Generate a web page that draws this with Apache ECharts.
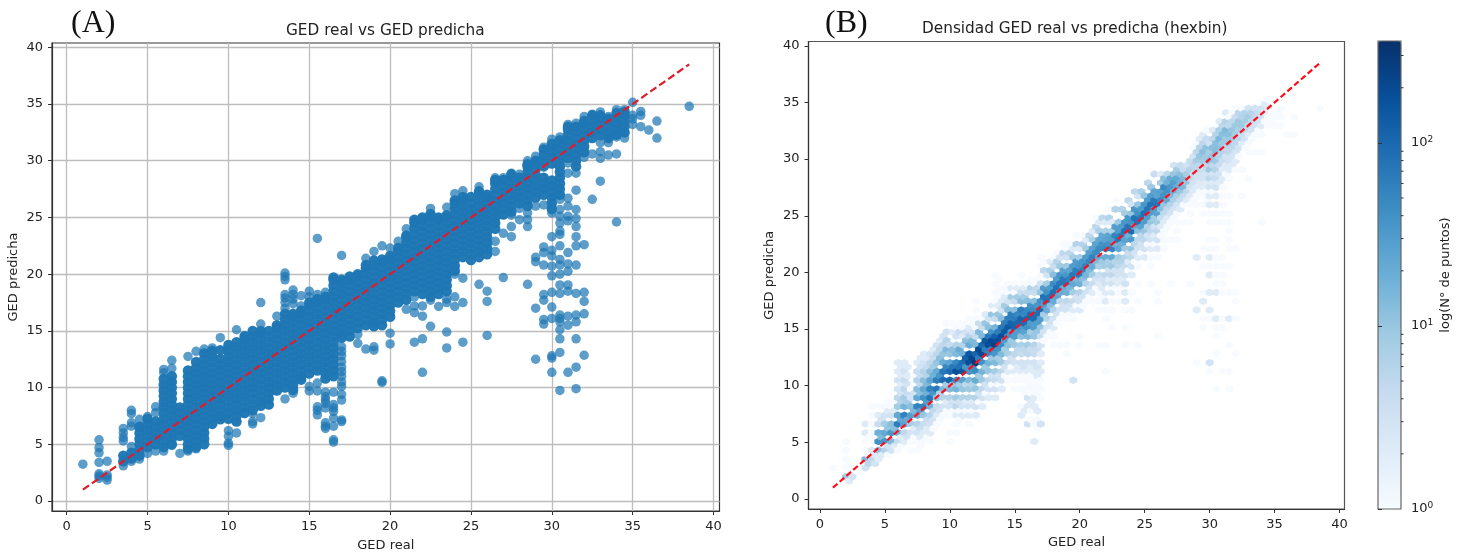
<!DOCTYPE html>
<html>
<head>
<meta charset="utf-8">
<title>GED real vs GED predicha</title>
<script src="https://cdn.jsdelivr.net/npm/echarts@6/dist/echarts.min.js"></script>
<style>
html, body { margin: 0; padding: 0; background: #fff; }
#chart { width: 1463px; height: 554px; filter: blur(0.35px); }
</style>
</head>
<body>
<div id="chart"></div>
<script>
var tickValues = [0, 5, 10, 15, 20, 25, 30, 35, 40];
var identityEnds = [1, 38.5];

// Panel A: [GED real, GED predicha, GED predicha, ...], read column by column
var denseColumns = [
    [3.5, 4, 3.5],
    [4, 4.25, 3.75],
    [4.5, 6.5, 6, 5.5, 5, 4.5, 4],
    [5, 7.25, 6.75, 6.25, 5.75, 5.25, 4.75],
    [5.5, 7, 6.5, 6, 5.5, 5],
    [6, 10.75, 10.25, 9.75, 9.25, 8.75, 8.25, 7.75, 7.25, 6.75, 6.25, 5.75, 5.25, 4.75],
    [6.5, 11, 10.5, 10, 9.5, 9, 8.5, 8, 7.5, 7, 6.5, 6, 5.5, 5],
    [7, 8.25, 7.75, 7.25, 6.75, 6.25, 5.75],
    [7.5, 11.5, 11, 10.5, 10, 9.5, 9, 8.5, 8, 7.5, 7, 6.5, 6, 5.5, 5, 4.6],
    [8, 12.25, 11.75, 11.25, 10.75, 10.25, 9.75, 9.25, 8.75, 8.25, 7.75, 7.25, 6.75, 6.25, 5.75, 5.25, 4.75],
    [8.5, 13, 12.5, 12, 11.5, 11, 10.5, 10, 9.5, 9, 8.5, 8, 7.5, 7, 6.5, 6, 5.5, 5],
    [9, 13.25, 12.75, 12.25, 11.75, 11.25, 10.75, 10.25, 9.75, 9.25, 8.75, 8.25, 7.75, 7.25, 6.8],
    [9.5, 13.3, 12.5, 12, 11.5, 11, 10.5, 10, 9.5, 9, 8.5, 8, 7.5, 7.2],
    [10, 13.75, 13.25, 12.75, 12.25, 11.75, 11.25, 10.75, 10.25, 9.75, 9.25, 8.75, 8.25, 7.75, 7.25],
    [10.5, 14, 13.5, 13, 12.5, 12, 11.5, 11, 10.5, 10, 9.5, 9, 8.5, 8, 7.5, 7],
    [11, 14.5, 14.25, 13.75, 13.25, 12.75, 12.25, 11.75, 11.25, 10.75, 10.25, 9.75, 9.25, 8.75, 8.25, 7.75],
    [11.5, 15, 14.5, 14, 13.5, 13, 12.5, 12, 11.5, 11, 10.5, 10, 9.5, 9, 8.5, 8],
    [12, 15, 14.75, 14.25, 13.75, 13.25, 12.75, 12.25, 11.75, 11.25, 10.75, 10.25, 9.75, 9.25, 8.75, 8.4],
    [12.5, 15, 14.5, 14, 13.5, 13, 12.5, 12, 11.5, 11, 10.5, 10, 9.5, 9, 8.5],
    [13, 15.5, 15.25, 14.75, 14.25, 13.75, 13.25, 12.75, 12.25, 11.75, 11.25, 10.75, 10.25, 9.75],
    [13.5, 16.5, 16, 15.5, 15, 14.5, 14, 13.5, 13, 12.5, 12, 11.5, 11, 10.5, 10],
    [14, 16.5, 16.25, 15.75, 15.25, 14.75, 14.25, 13.75, 13.25, 12.75, 12.25, 11.75, 11.25, 10.75, 10.25, 9.8],
    [14.5, 16.8, 16.5, 16, 15.5, 15, 14.5, 14, 13.5, 13, 12.5, 12, 11.5, 11, 10.7],
    [15, 17.5, 17.25, 16.75, 16.25, 15.75, 15.25, 14.75, 14.25, 13.75, 13.25, 12.75, 12.25, 11.75, 11.25],
    [15.5, 17.8, 17.5, 17, 16.5, 16, 15.5, 15, 14.5, 14, 13.5, 13, 12.5, 12, 11.5],
    [16, 18, 17.75, 17.25, 16.75, 16.25, 15.75, 15.25, 14.75, 14.25, 13.75, 13.25, 12.75, 12.25, 11.75, 11.25, 10.8],
    [16.5, 19.7, 19.5, 19, 18.5, 18, 17.5, 17, 16.5, 16, 15.5, 15, 14.5, 14, 13.5, 13, 12.5, 12, 11.5, 11],
    [17, 19.5, 19.25, 18.75, 18.25, 17.75, 17.25, 16.75, 16.25, 15.75, 15.25, 14.75, 14.4],
    [17.5, 19.8, 19.5, 19, 18.5, 18, 17.5, 17, 16.5, 16, 15.5, 15, 14.5],
    [18, 20, 19.75, 19.25, 18.75, 18.25, 17.75, 17.25, 16.75, 16.25, 15.75, 15.25],
    [18.5, 20.8, 20.5, 20, 19.5, 19, 18.5, 18, 17.5, 17, 16.5, 16, 15.5],
    [19, 21.2, 20.75, 20.25, 19.75, 19.25, 18.75, 18.25, 17.75, 17.25, 16.75, 16.25, 15.75, 15.4],
    [19.5, 21.3, 21, 20.5, 20, 19.5, 19, 18.5, 18, 17.5, 17, 16.5, 16, 15.5],
    [20, 21.6, 21.25, 20.75, 20.25, 19.75, 19.25, 18.75, 18.25, 17.75, 17.25, 16.75, 16.25],
    [20.5, 22.3, 22, 21.5, 21, 20.5, 20, 19.5, 19, 18.5, 18, 17.5],
    [21, 23.4, 23.25, 22.75, 22.25, 21.75, 21.25, 20.75, 20.25, 19.75, 19.25, 18.75, 18.25, 17.75],
    [21.5, 24.8, 24.5, 24, 23.5, 23, 22.5, 22, 21.5, 21, 20.5, 20, 19.5, 19, 18.5],
    [22, 25, 24.75, 24.25, 23.75, 23.25, 22.75, 22.25, 21.75, 21.25, 20.75, 20.25, 19.75, 19.25, 18.75, 18.25],
    [22.5, 25.3, 25, 24.5, 24, 23.5, 23, 22.5, 22, 21.5, 21, 20.5, 20, 19.5, 19, 18.5, 18],
    [23, 25, 24.75, 24.25, 23.75, 23.25, 22.75, 22.25, 21.75, 21.25, 20.75, 20.25, 19.75, 19.25, 18.75, 18.25],
    [23.5, 25.2, 25, 24.5, 24, 23.5, 23, 22.5, 22, 21.5, 21, 20.5, 20, 19.5, 19, 18.5],
    [24, 26.5, 26.25, 25.75, 25.25, 24.75, 24.25, 23.75, 23.25, 22.75, 22.25, 21.75, 21.25, 20.75, 20.3],
    [24.5, 26.8, 26.5, 26, 25.5, 25, 24.5, 24, 23.5, 23, 22.5, 22, 21.5],
    [25, 26.8, 26.25, 25.75, 25.25, 24.75, 24.25, 23.75, 23.25, 22.75, 22.25, 21.75, 21.25],
    [25.5, 27.3, 27, 26.5, 26, 25.5, 25, 24.5, 24, 23.5, 23, 22.5, 22, 21.5],
    [26, 27, 26.75, 26.25, 25.75, 25.25, 24.75, 24.25, 23.75, 23.25, 22.75, 22.25, 21.75],
    [26.5, 28.3, 28, 27.5, 27, 26.5, 26, 25.5, 25, 24.5, 24],
    [27, 28.3, 27.75, 27.25, 26.75, 26.25, 25.75, 25.25],
    [27.5, 28.8, 28.5, 28, 27.5, 27, 26.5, 26, 25.5],
    [28, 28.5, 28.25, 27.75, 27.25, 26.75, 26.25],
    [28.5, 29.7, 29.5, 29, 28.5, 28, 27.5, 27, 26.5, 26],
    [29, 30, 29.75, 29.25, 28.75, 28.25, 27.75, 27.25, 26.75],
    [29.5, 31, 30.5, 30, 29.5, 28.5, 28, 27.5, 27],
    [30, 31.5, 31.25, 30.75, 30.25, 29.75, 28.25, 27.75, 27.25, 26.75, 26.25, 25.75],
    [30.5, 31.8, 31.5, 31, 30.5, 30, 29.5, 29, 28.5, 28, 27.5, 27],
    [31, 33, 32.75, 32.25, 31.75, 31.25, 30.75, 30.25],
    [31.5, 33, 32.5, 32, 31.5, 31, 30.5, 30, 29.5],
    [32, 33.5, 33.25, 32.75, 32.25, 31.75, 31.25, 30.75],
    [32.5, 34, 33.5, 33, 32.5, 32],
    [33, 34, 33.75, 33.25, 32.75, 32.25],
    [33.5, 33.7, 33.5, 33, 32.5, 32],
    [34, 34.2, 33.75, 33.25, 32.75, 32.3],
    [34.5, 34.3, 34, 33.5, 33, 32.5]
];

// Panel A: the loose points around the band, same layout
var sparseColumns = [
    [1, 3.25],
    [2, 5.4, 4.7, 4.25, 3.4, 2.4, 2.2, 2.0],
    [2.5, 3.5, 2.3, 2.1, 1.85],
    [3.5, 6.4, 6.0, 5.6, 5.3, 3.1],
    [4, 8.0, 7.7, 6.9, 6.6, 4.8, 3.5],
    [4.5, 7.2, 6.6, 3.7],
    [5, 7.45, 4.2],
    [5.5, 8.3, 7.8, 4.4],
    [6, 11.6, 11.3, 4.4],
    [6.5, 12.4, 11.7, 4.9],
    [7, 4.2],
    [7.5, 12.75, 4.4],
    [8, 13.2, 4.6],
    [8.5, 13.4],
    [9, 13.5],
    [9.5, 14.4],
    [10, 6.2, 5.7, 5.1, 4.9],
    [10.5, 15.1, 6.0],
    [11, 14.6],
    [11.5, 7.7, 7, 6.8],
    [12, 17.5, 15.6, 7.35],
    [13, 16.3],
    [13.5, 20.1, 19.8, 19.5, 18.2, 17.9, 17.5, 17, 9],
    [14, 18.6, 18.2, 17.8, 17.4, 9.5],
    [14.5, 18.1, 17.2],
    [15, 18.5, 18, 10.1, 9.7],
    [15.5, 23.15, 18.2, 10.4, 9.7, 8.3, 8, 7.6],
    [16, 18.4, 9.6, 9.2, 8.9, 8.6, 8.2, 6.9, 6.6, 6.4],
    [16.5, 9.6, 8.5, 8.2, 7.9, 7.3, 6.6, 5.4, 5.2],
    [17, 21.65, 13.6, 13.2, 12.8, 12.3, 11.8, 11.4, 11, 10.5, 10.1, 9.4, 8.9, 7.15, 7],
    [18, 14.7, 13.9],
    [18.5, 21.4, 13.4],
    [19, 22, 13.6, 13.3],
    [19.5, 22.5, 10.6, 10.45],
    [20, 22.3, 14.8, 13.85],
    [20.5, 22.9],
    [21, 24, 16.9],
    [21.5, 18, 17.2, 16.6, 14],
    [22, 17.2, 16.3, 14.3, 11.35],
    [22.5, 25.8, 17.7, 15.4],
    [23, 17.15],
    [23.5, 25.9, 17.8, 17.5, 14.9, 13.5],
    [24, 27.1, 20, 18, 17.15],
    [24.5, 27.35, 19.65, 17.5, 14],
    [25.5, 27.7, 19.1],
    [26, 18.5, 17.6, 14.6],
    [26.5, 28.5, 22.9, 22],
    [27, 28.5, 23.6, 19.7],
    [27.5, 28.9, 25.2, 24.2, 23.3],
    [28, 28.8, 25.8, 24.8],
    [28.5, 30, 25.4, 24.8, 24.2, 19.1],
    [29, 30.4, 26, 21.5, 21.1, 17, 12.5],
    [29.5, 31.2, 26.1, 22.4, 21.9, 20.8, 18.2, 17.7, 16, 15.6],
    [30, 31.9, 25.4, 23.3, 22.1, 21.6, 20.7, 19.85, 18.4, 17.1, 16.1, 12.8, 12.6, 11.35],
    [30.5, 32.1, 26.6, 25.7, 25.1, 24.5, 23.8, 23.5, 22.5, 21.3, 20.8, 20, 19.05, 18.3, 16.4, 16.1, 15.8, 15.1, 14.3, 13.1, 9.75],
    [31, 33.2, 29.8, 28.9, 26.7, 26, 25.1, 24.7, 21.9, 20.9, 20.25, 19.05, 18.5, 16.3, 15.5, 11.35],
    [31.5, 33.3, 28.9, 27.4, 25.7, 24.9, 24.2, 23.3, 22.5, 20.8, 18.3, 16.4, 15.8, 14.3, 11.8, 9.9],
    [32, 33.9, 30.3, 22.6, 18.4, 17.6, 16.5, 12.85],
    [32.5, 34.1, 30.6, 26.6],
    [33, 34.3, 31.6, 30.8, 30.2, 28.2],
    [33.5, 33.9, 31.6, 30.5],
    [34, 34.5, 32.1, 30.6, 24.6],
    [34.5, 34.5, 32],
    [35, 35.15, 34, 33.7, 33.2],
    [35.5, 34.35, 34, 33],
    [36, 32.7],
    [36.5, 33.5, 32],
    [38.5, 34.8]
];

// Panel B: hexbin lattice rows and counts, [GED real, first row, count, count, ...]
// each count sits two rows above the one before it, 0 = empty cell
var hexFirstY = 1.2;
var hexRowStep = 0.387;
var hexWidth = 0.5;
var hexColumns = [
    [1, 4, 1],
    [2, 2, 8, 1, 1, 1, 1],
    [2.25, 1, 2, 0, 1],
    [2.5, 2, 3, 1],
    [3.5, 4, 3, 14, 1, 1, 2, 2],
    [3.75, 5, 5, 1, 0, 1],
    [4, 6, 5, 2, 1, 1, 1, 1, 1],
    [4.25, 5, 3, 2, 0, 1],
    [4.5, 6, 2, 12, 40, 18, 4, 2, 1],
    [4.75, 7, 2, 0, 14, 0, 3],
    [5, 8, 6, 35, 22, 8, 3, 1],
    [5.25, 7, 1, 3, 0, 10, 0, 2, 1],
    [5.5, 8, 3, 14, 35, 12, 3, 1],
    [5.75, 9, 2, 0, 12, 0, 2, 1],
    [6, 8, 1, 4, 18, 60, 22, 8, 5, 3, 3, 2, 2],
    [6.25, 9, 1, 2, 0, 22, 0, 6, 3, 2, 2, 2],
    [6.5, 10, 2, 5, 25, 55, 16, 8, 5, 4, 3, 2],
    [6.75, 11, 3, 0, 20, 0, 8, 4, 3, 2, 2],
    [7, 8, 1, 1, 3, 8, 28, 12, 3, 1],
    [7.25, 11, 1, 2, 0, 14, 0, 3, 1, 1],
    [7.5, 8, 1, 1, 3, 6, 18, 55, 22, 12, 6, 4, 2],
    [7.75, 9, 1, 2, 4, 0, 25, 0, 12, 5, 4, 3, 2],
    [8, 10, 1, 2, 4, 10, 55, 40, 22, 12, 6, 3, 2],
    [8.25, 11, 1, 2, 4, 0, 30, 18, 14, 6, 4, 2],
    [8.5, 10, 1, 2, 3, 6, 16, 75, 55, 25, 12, 5, 3],
    [8.75, 13, 1, 3, 5, 0, 35, 0, 18, 8, 4, 2],
    [9, 14, 1, 2, 4, 10, 70, 60, 20, 10, 5, 3],
    [9.25, 15, 1, 3, 0, 6, 0, 35, 0, 12, 5, 2],
    [9.5, 16, 1, 3, 6, 14, 90, 70, 20, 10, 5, 3],
    [9.75, 17, 1, 2, 0, 8, 0, 50, 0, 14, 6, 3, 1],
    [10, 10, 1, 1, 0, 1, 3, 6, 14, 110, 90, 25, 10, 4],
    [10.25, 17, 1, 3, 0, 9, 0, 70, 0, 12, 0, 2, 1],
    [10.5, 12, 1, 1, 2, 5, 8, 16, 45, 180, 50, 14, 6, 3, 1],
    [10.75, 15, 1, 1, 3, 0, 8, 0, 80, 0, 20, 0, 4, 1],
    [11, 16, 2, 3, 6, 10, 25, 150, 90, 18, 6, 2, 1],
    [11.25, 17, 1, 2, 0, 5, 0, 35, 120, 0, 12, 3, 1],
    [11.5, 14, 1, 2, 3, 6, 9, 14, 35, 190, 150, 20, 6, 2, 1],
    [11.75, 17, 1, 2, 0, 6, 0, 40, 220, 0, 14, 3, 1],
    [12, 16, 2, 3, 6, 10, 20, 45, 300, 110, 14, 4, 1, 1, 1],
    [12, 42, 1],
    [12.25, 19, 1, 3, 0, 8, 0, 60, 200, 0, 14, 4],
    [12.5, 18, 2, 3, 5, 9, 16, 40, 200, 100, 14, 4, 1],
    [12.75, 21, 1, 3, 0, 9, 0, 60, 150, 0, 10, 2],
    [13, 20, 2, 3, 5, 10, 16, 50, 180, 70, 12, 3],
    [13.25, 23, 1, 3, 0, 9, 50, 200, 40, 0, 10, 2],
    [13.5, 20, 2, 3, 4, 8, 14, 35, 240, 120, 16, 4, 1, 1, 1, 1, 1],
    [13.75, 23, 1, 3, 0, 8, 40, 180, 60, 0, 10, 2, 1, 1, 1],
    [14, 22, 2, 3, 5, 9, 14, 45, 190, 70, 12, 3, 2, 1],
    [14.25, 25, 1, 3, 0, 8, 30, 140, 60, 0, 8, 2, 1],
    [14.5, 24, 1, 2, 4, 7, 12, 40, 140, 60, 12, 3, 1, 1],
    [14.75, 27, 1, 3, 0, 9, 30, 110, 60, 0, 8, 2],
    [15, 22, 1, 1, 2, 3, 5, 9, 30, 110, 65, 12, 4, 1, 1],
    [15.25, 25, 1, 2, 0, 5, 0, 30, 100, 50, 0, 8, 2],
    [15.5, 16, 2, 1, 0, 1, 1, 2, 3, 4, 7, 12, 35, 110, 60, 12, 4, 1, 1],
    [15.75, 17, 2, 0, 1, 0, 1, 3, 0, 5, 0, 25, 90, 50, 0, 8, 2],
    [16, 14, 3, 0, 2, 3, 1, 1, 2, 3, 5, 8, 14, 40, 100, 50, 12, 4, 1],
    [16.25, 15, 1, 1, 2, 1, 1, 1, 2, 0, 4, 0, 8, 30, 90, 40, 0, 6, 1],
    [16.5, 10, 2, 0, 1, 0, 2, 2, 1, 1, 2, 3, 4, 6, 10, 30, 90, 45, 12, 4, 1],
    [16.75, 13, 1, 1, 2, 0, 1, 1, 2, 3, 0, 4, 0, 10, 30, 85, 35, 0, 5, 1],
    [17, 14, 3, 0, 0, 1, 1, 1, 2, 2, 2, 3, 4, 10, 30, 90, 40, 10, 3, 1, 1, 1],
    [17.25, 33, 1, 3, 0, 8, 30, 80, 30, 0, 5, 1],
    [17.5, 34, 1, 3, 6, 20, 80, 40, 8, 3],
    [17.75, 35, 1, 3, 0, 12, 75, 30, 0, 7, 2],
    [18, 32, 1, 1, 2, 3, 6, 20, 85, 45, 12, 4, 1],
    [18.25, 37, 1, 3, 0, 25, 80, 30, 0, 6, 1],
    [18.5, 32, 1, 0, 0, 1, 3, 5, 20, 75, 35, 9, 3],
    [18.75, 39, 1, 3, 0, 20, 70, 25, 0, 5, 1],
    [19, 30, 1, 1, 0, 0, 1, 3, 5, 18, 70, 35, 9, 3, 1],
    [19.25, 39, 1, 3, 0, 15, 60, 25, 0, 5, 1],
    [19.5, 24, 3],
    [19.5, 38, 1, 2, 4, 8, 22, 70, 30, 8, 2],
    [19.75, 41, 1, 3, 0, 15, 60, 30, 0, 6, 1],
    [20, 32, 1, 1, 0, 0, 2, 3, 6, 18, 65, 35, 8, 2],
    [20.25, 41, 1, 3, 0, 12, 55, 35, 0, 6, 1],
    [20.5, 42, 1, 3, 6, 16, 55, 30, 8, 2],
    [20.75, 43, 1, 3, 0, 14, 50, 28, 0, 5],
    [21, 42, 1, 2, 4, 8, 20, 55, 25, 7, 2],
    [21.25, 45, 1, 3, 0, 14, 45, 25, 0, 5, 1],
    [21.5, 32, 1],
    [21.5, 40, 1, 1, 1, 2, 4, 7, 20, 45, 22, 7, 2],
    [21.75, 43, 1, 2, 3, 0, 9, 0, 40, 22, 0, 5],
    [22, 26, 1],
    [22, 32, 1],
    [22, 38, 1, 1, 2, 2, 3, 5, 8, 20, 50, 25, 7, 2],
    [22.25, 45, 1, 2, 3, 7, 0, 40, 25, 0, 6, 1],
    [22.5, 36, 1, 0, 1, 1, 2, 3, 5, 9, 20, 55, 28, 7, 2],
    [22.75, 45, 1, 2, 3, 6, 0, 16, 55, 28, 0, 6, 1],
    [23, 42, 1, 1, 2, 3, 5, 8, 22, 65, 30, 9],
    [23.25, 45, 1, 2, 3, 6, 0, 18, 65, 30, 0, 6],
    [23.5, 32, 1],
    [23.5, 36, 1, 0, 1, 2, 2, 3, 3, 4, 6, 9, 25, 80, 35, 8],
    [23.75, 49, 1, 2, 4, 0, 18, 75, 35, 0, 5],
    [24, 40, 1, 0, 1, 0, 2, 3, 5, 10, 30, 90, 40, 10, 3],
    [24.25, 51, 1, 3, 5, 0, 22, 80, 35, 0, 5],
    [24.5, 32, 1],
    [24.5, 42, 1, 0, 1, 0, 1, 2, 3, 5, 12, 80, 40, 10, 3],
    [24.75, 53, 1, 3, 5, 25, 70, 30, 0, 7],
    [25, 52, 2, 3, 5, 10, 30, 85, 35, 10],
    [25.25, 55, 1, 3, 6, 30, 75, 30, 0, 5],
    [25.5, 46, 1],
    [25.5, 50, 1, 1, 2, 3, 5, 10, 30, 80, 30, 9],
    [25.75, 55, 1, 2, 3, 8, 30, 70, 25, 0, 4],
    [26, 34, 1],
    [26, 42, 1, 1],
    [26, 52, 1, 2, 3, 5, 8, 25, 75, 25],
    [26.25, 57, 1, 2, 4, 12, 50, 28, 8, 2],
    [26.5, 54, 1, 1, 1, 2, 5, 10, 40, 50, 12],
    [26.75, 59, 1, 2, 5, 22, 40, 18, 5],
    [27, 46, 1],
    [27, 56, 1, 0, 1, 3, 6, 14, 35, 20],
    [27.25, 61, 1, 3, 7, 18, 28, 10, 3],
    [27.5, 56, 1, 1, 1, 1, 3, 7, 20, 22, 8],
    [27.75, 63, 2, 4, 10, 18, 12, 4],
    [28, 60, 1, 0, 1, 4, 14, 14, 4],
    [28.25, 65, 2, 5, 10, 8, 3],
    [28.5, 46, 1],
    [28.5, 60, 1, 1, 1, 2, 3, 5, 6, 4],
    [28.75, 65, 1, 2, 3, 4, 5, 3, 1],
    [29, 28, 1],
    [29, 40, 2],
    [29, 52, 2],
    [29, 64, 1, 1, 2, 3, 5, 8, 5, 1],
    [29.25, 67, 1, 2, 3, 5, 10, 6, 2],
    [29.5, 36, 1, 1],
    [29.5, 42, 2, 1],
    [29.5, 50, 1, 0, 1],
    [29.5, 62, 1, 1, 1, 2, 3, 4, 8, 12, 5, 2],
    [29.75, 65, 1, 1, 2, 3, 5, 9, 11, 4, 1],
    [30, 26, 1, 3],
    [30, 38, 1, 2, 0, 2, 0, 2, 1, 2, 1, 1],
    [30, 60, 1, 1, 2, 2, 3, 5, 9, 12, 8, 3],
    [30.25, 67, 1, 2, 3, 5, 10, 12, 5, 2],
    [30.5, 22, 1],
    [30.5, 30, 1, 0, 1, 1, 2, 0, 0, 2, 1, 1, 1, 1, 1, 1, 0, 1, 1, 2, 2, 3, 4, 6, 9, 13, 12, 6],
    [30.75, 69, 2, 3, 4, 6, 12, 15, 7, 2],
    [31, 26, 1],
    [31, 36, 1, 1, 0, 0, 1, 1, 1, 1, 1],
    [31, 60, 1, 1, 1, 1, 1, 2, 2, 4, 6, 9, 12, 5],
    [31.25, 71, 1, 2, 3, 5, 9, 14, 6, 2],
    [31.5, 22, 1, 0, 1],
    [31.5, 32, 1, 0, 0, 2],
    [31.5, 44, 1],
    [31.5, 50, 1, 0, 1, 1, 1, 1, 1, 0, 1, 0, 1, 2, 3, 5, 9, 12, 5, 1],
    [31.75, 73, 2, 3, 5, 9, 10, 5, 1],
    [32, 30, 1],
    [32, 38, 1, 0, 1, 1],
    [32, 54, 1],
    [32, 72, 1, 2, 3, 5, 8, 9, 4, 1],
    [32.25, 75, 1, 3, 5, 7, 9, 5],
    [32.5, 66, 1],
    [32.5, 72, 1],
    [32.5, 78, 2, 4, 9, 6, 1],
    [32.75, 77, 1, 3, 5, 8, 6],
    [33, 70, 1, 0, 0, 1, 1, 2, 4, 8, 3],
    [33.25, 79, 1, 3, 5, 6],
    [33.5, 76, 1, 0, 1, 3, 5, 3],
    [33.75, 81, 1, 3, 4],
    [34, 60, 1],
    [34, 76, 1],
    [34, 80, 1, 2, 3, 3],
    [34.25, 83, 1, 2, 2],
    [34.5, 82, 1, 1, 2, 1],
    [34.75, 83, 1, 1],
    [35, 82, 1, 1, 0, 1],
    [35.25, 85, 1],
    [35.5, 82, 1, 1, 1],
    [36, 80, 1],
    [36.5, 80, 1, 0, 1],
    [38.5, 86, 1]
];

// colorbar
var colorbarMax = 360;
var colorbarMajor = [1, 10, 100];
var colorbarMinor = [2, 3, 4, 5, 6, 7, 8, 9, 20, 30, 40, 50, 60, 70, 80, 90, 200, 300];
var blues = ['#f7fbff', '#deebf7', '#c6dbef', '#9ecae1', '#6baed6', '#4292c6', '#2171b5', '#08519c', '#08306b'];

function flattenColumns(columns) {
    var points = [];
    columns.forEach(function (col) {
        for (var i = 1; i < col.length; i++) {
            points.push([col[0], col[i]]);
        }
    });
    return points;
}

function flattenHex(columns) {
    var cells = [];
    columns.forEach(function (col) {
        for (var i = 2; i < col.length; i++) {
            if (col[i] > 0) {
                var row = col[1] + (i - 2) * 2;
                cells.push([col[0], hexFirstY + row * hexRowStep, col[i], Math.log10(col[i])]);
            }
        }
    });
    return cells;
}

// same hexagon shape as matplotlib hexbin, with an edge of the face colour
function renderHex(params, api) {
    var center = api.coord([api.value(0), api.value(1)]);
    var size = api.size([hexWidth, hexRowStep * 2]);
    var hw = size[0] / 2;
    var hh = size[1] / 3;
    var color = api.visual('color');
    return {
        type: 'polygon',
        shape: {
            points: [
                [center[0] + hw, center[1] - hh / 2],
                [center[0] + hw, center[1] + hh / 2],
                [center[0], center[1] + hh],
                [center[0] - hw, center[1] + hh / 2],
                [center[0] - hw, center[1] - hh / 2],
                [center[0], center[1] - hh]
            ]
        },
        style: { fill: color, stroke: color, lineWidth: 1.5 }
    };
}

function renderColorbarTick(params, api) {
    var p = api.coord([1, api.value(0)]);
    return {
        type: 'line',
        shape: { x1: p[0], y1: p[1], x2: p[0] + 2.5, y2: p[1] },
        style: { stroke: '#333', lineWidth: 1 }
    };
}

function plainAxis(gridIndex, name, nameGap, min, max) {
    return {
        type: 'value',
        gridIndex: gridIndex,
        min: min,
        max: max,
        name: name,
        nameLocation: 'middle',
        nameGap: nameGap,
        nameTextStyle: { fontFamily: 'DejaVu Sans', fontSize: 13, color: '#222' },
        axisLine: { show: true, onZero: false, lineStyle: { color: '#333', width: 1.2 } },
        axisTick: { show: true, length: 4, customValues: tickValues, lineStyle: { color: '#333', width: 1 } },
        axisLabel: { show: true, margin: 9, customValues: tickValues, fontFamily: 'DejaVu Sans', fontSize: 13, color: '#222' },
        splitLine: { show: false }
    };
}

var chart = echarts.init(document.getElementById('chart'));

var xA = plainAxis(0, 'GED real', 28, -0.91, 40.37);
var yA = plainAxis(0, 'GED predicha', 32, -0.88, 40.38);
xA.splitLine = { show: true, lineStyle: { color: '#bdbdbd', width: 1.3 } };
yA.splitLine = { show: true, lineStyle: { color: '#bdbdbd', width: 1.3 } };
var xB = plainAxis(1, 'GED real', 27, -0.88, 40.38);
var yB = plainAxis(1, 'GED predicha', 32, -0.88, 40.38);

chart.setOption({
    animation: false,
    backgroundColor: '#fff',
    title: [
        { text: '(A)', left: 71, top: 8, padding: 0, textStyle: { fontFamily: 'Liberation Serif', fontSize: 32, fontWeight: 'normal', color: '#111' } },
        { text: '(B)', left: 825, top: 8, padding: 0, textStyle: { fontFamily: 'Liberation Serif', fontSize: 32, fontWeight: 'normal', color: '#111' } },
        { text: 'GED real vs GED predicha', left: 286, top: 24, padding: 0, textStyle: { fontFamily: 'DejaVu Sans', fontSize: 15.3, fontWeight: 'normal', color: '#222' } },
        { text: 'Densidad GED real vs predicha (hexbin)', left: 922, top: 22, padding: 0, textStyle: { fontFamily: 'DejaVu Sans', fontSize: 15.3, fontWeight: 'normal', color: '#222' } }
    ],
    grid: [
        { left: 52, top: 43, width: 667.5, height: 468, outerBoundsMode: 'none', show: true, borderColor: '#333', borderWidth: 1.2, backgroundColor: '#fff' },
        { left: 808.5, top: 41.5, width: 536, height: 467.5, outerBoundsMode: 'none', show: true, borderColor: '#555', borderWidth: 1.2, backgroundColor: '#fff' },
        { left: 1378, top: 41, width: 23, height: 468, outerBoundsMode: 'none', show: true, borderColor: '#666', borderWidth: 1.2, backgroundColor: 'transparent', z: 6 }
    ],
    xAxis: [
        xA,
        xB,
        { type: 'value', gridIndex: 2, min: 0, max: 1, show: false }
    ],
    yAxis: [
        yA,
        yB,
        {
            type: 'log',
            gridIndex: 2,
            logBase: 10,
            min: 1,
            max: colorbarMax,
            position: 'right',
            z: 6,
            name: 'log(N° de puntos)',
            nameLocation: 'middle',
            nameRotate: 90,
            nameGap: 38,
            nameTextStyle: { fontFamily: 'DejaVu Sans', fontSize: 13, color: '#222' },
            axisLine: { show: false },
            axisTick: { show: true, length: 4, customValues: colorbarMajor, lineStyle: { color: '#333', width: 1 } },
            axisLabel: {
                show: true,
                margin: 10,
                customValues: colorbarMajor,
                formatter: function (value) {
                    return '{b|10}{s|' + Math.round(Math.log10(value)) + '}';
                },
                rich: {
                    b: { fontFamily: 'DejaVu Sans', fontSize: 13, color: '#222', lineHeight: 16 },
                    s: { fontFamily: 'DejaVu Sans', fontSize: 9, color: '#222', lineHeight: 10, verticalAlign: 'top' }
                }
            },
            splitLine: { show: false },
            minorTick: { show: false }
        }
    ],
    visualMap: {
        type: 'continuous',
        seriesIndex: 2,
        dimension: 3,
        min: 0,
        max: Math.log10(colorbarMax),
        calculable: false,
        hoverLink: false,
        realtime: false,
        itemWidth: 23,
        itemHeight: 468,
        left: 1378,
        top: 41,
        padding: 0,
        text: null,
        inRange: { color: blues }
    },
    series: [
        {
            type: 'scatter',
            xAxisIndex: 0,
            yAxisIndex: 0,
            symbolSize: 10.5,
            itemStyle: { color: '#1f77b4', opacity: 0.98 },
            silent: true,
            data: flattenColumns(denseColumns)
        },
        {
            type: 'scatter',
            xAxisIndex: 0,
            yAxisIndex: 0,
            symbolSize: 9.5,
            itemStyle: { color: '#1f77b4', opacity: 0.72 },
            silent: true,
            data: flattenColumns(sparseColumns)
        },
        {
            type: 'custom',
            xAxisIndex: 1,
            yAxisIndex: 1,
            renderItem: renderHex,
            encode: { x: 0, y: 1 },
            silent: true,
            data: flattenHex(hexColumns)
        },
        {
            type: 'line',
            xAxisIndex: 0,
            yAxisIndex: 0,
            symbol: 'none',
            z: 5,
            silent: true,
            lineStyle: { color: '#e01b2b', width: 2.2, type: [7.5, 3.5] },
            data: [[identityEnds[0], identityEnds[0]], [identityEnds[1], identityEnds[1]]]
        },
        {
            type: 'line',
            xAxisIndex: 1,
            yAxisIndex: 1,
            symbol: 'none',
            z: 5,
            silent: true,
            lineStyle: { color: '#ff0d1a', width: 2.2, type: [6, 3] },
            data: [[identityEnds[0], identityEnds[0]], [identityEnds[1], identityEnds[1]]]
        },
        {
            type: 'custom',
            xAxisIndex: 2,
            yAxisIndex: 2,
            renderItem: renderColorbarTick,
            z: 6,
            silent: true,
            data: colorbarMinor.map(function (v) { return [v]; })
        }
    ]
});
</script>
</body>
</html>
